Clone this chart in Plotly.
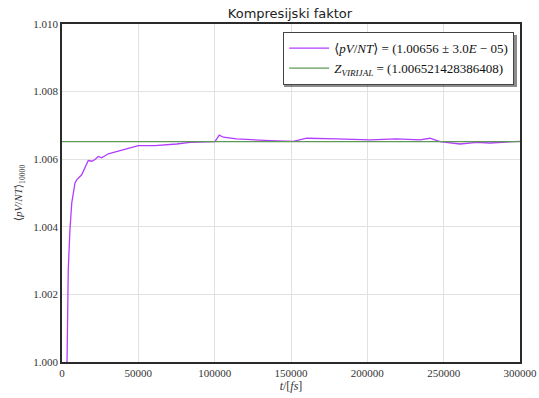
import plotly.graph_objects as go

# Purple series: running average <pV/NT>
t_avg = [3000, 3300, 4100, 5200, 6400, 8500, 9600, 12900, 15100, 17200, 19500, 21600,
         23800, 26000, 30300, 39100, 50000, 60900, 70700, 75100, 83800, 99100, 100200,
         103000, 105700, 114400, 125100, 136200, 151500, 160300, 179900, 201700, 219200,
         234500, 241000, 247600, 260700, 271600, 280300, 289100, 298900, 300000]
v_avg = [0.9990, 1.0000, 1.00273, 1.00391, 1.00471, 1.00530, 1.00539, 1.00554, 1.00575,
         1.00596, 1.00594, 1.00599, 1.00608, 1.00604, 1.00616, 1.00626, 1.00640, 1.00640,
         1.00642, 1.00645, 1.00650, 1.00650, 1.00652, 1.00671, 1.00665, 1.00660, 1.00657,
         1.00655, 1.00653, 1.00662, 1.00660, 1.00657, 1.00660, 1.00657, 1.00662, 1.00652,
         1.00645, 1.00650, 1.00648, 1.00650, 1.00653, 1.00653]

# Green series: virial value
t_vir = [0, 300000]
z_vir = 1.006521428386408

x_ticks = [0, 50000, 100000, 150000, 200000, 250000, 300000]
y_ticks = [1.000, 1.002, 1.004, 1.006, 1.008, 1.010]

serif = "Liberation Serif, DejaVu Serif, serif"

fig = go.Figure()
fig.add_trace(go.Scatter(
    x=t_avg, y=v_avg, mode="lines",
    line=dict(color="#b23cff", width=1.3),
    name="⟨<i>pV</i>/<i>NT</i>⟩ = (1.00656 ± 3.0<i>E</i> − 05)"))
fig.add_trace(go.Scatter(
    x=t_vir, y=[z_vir, z_vir], mode="lines",
    line=dict(color="#5e9a55", width=1.2),
    name="<i>Z</i><sub><i>VIRIJAL</i></sub> = (1.006521428386408)"))

# legend shadow (plot area: x 62..520, y 24..362)
fig.add_shape(type="rect", xref="paper", yref="paper",
              x0=(284 - 62) / 458, x1=(517 - 62) / 458,
              y0=(362 - 87) / 338, y1=(362 - 35) / 338,
              fillcolor="rgba(0,0,0,0.45)", line=dict(width=0), layer="above")

fig.update_layout(
    width=539, height=398,
    margin=dict(l=62, r=19, t=24, b=36),
    paper_bgcolor="white", plot_bgcolor="white",
    title=dict(text="Kompresijski faktor", x=0.538, xanchor="center", y=0.965, yanchor="middle",
               font=dict(family="DejaVu Sans, sans-serif", size=13, color="#222")),
    showlegend=True,
    legend=dict(x=(514 - 62) / 458, xanchor="right", y=(362 - 32) / 338, yanchor="top",
                bgcolor="white", bordercolor="#444", borderwidth=1.2,
                font=dict(family=serif, size=13, color="#111"),
                tracegroupgap=0, itemwidth=40),
    font=dict(family=serif, size=11, color="#333"),
)
fig.update_xaxes(range=[0, 300000], tickvals=x_ticks, ticktext=[str(v) for v in x_ticks],
                 showgrid=True, gridcolor="#e2e2e2", gridwidth=1,
                 showline=True, mirror=True, linecolor="#2a2a2a", linewidth=1.5,
                 ticks="", zeroline=False, automargin=False,
                 title=dict(text="<i>t</i>/[<i>fs</i>]", font=dict(family=serif, size=12, color="#333"), standoff=4))
fig.update_yaxes(range=[1.000, 1.010], tickvals=y_ticks, tickformat=".3f",
                 showgrid=True, gridcolor="#e2e2e2", gridwidth=1,
                 showline=True, mirror=True, linecolor="#2a2a2a", linewidth=1.5,
                 ticks="", zeroline=False, automargin=False,
                 title=dict(text="⟨<i>pV</i>/<i>NT</i>⟩<sub>10000</sub>", font=dict(family=serif, size=11, color="#333"), standoff=8))

fig.write_html("out.html", config={"displayModeBar": False},
               post_script="document.body.style.margin='0px';")
